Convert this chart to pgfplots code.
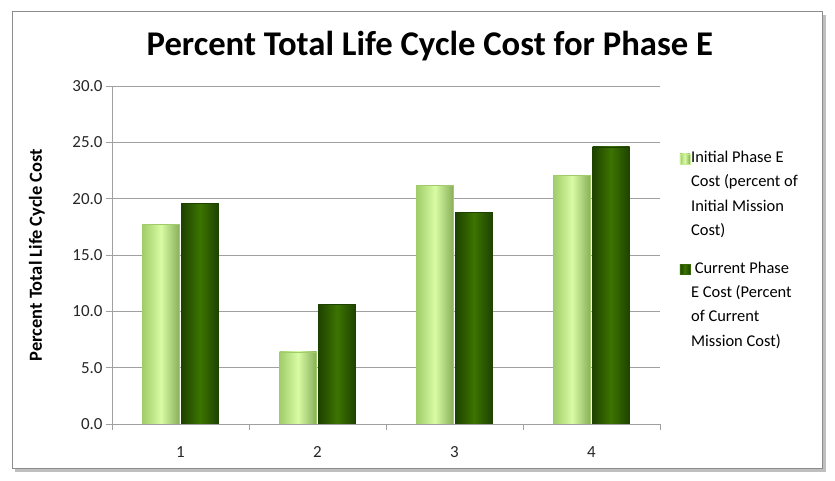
\documentclass[border=0pt]{standalone}
\usepackage{fontspec}
\setmainfont{Carlito}
\usepackage{pgfplots}
\pgfplotsset{compat=1.18}
\definecolor{lightg}{RGB}{216,251,164}
\definecolor{lightgE}{RGB}{160,205,105}
\definecolor{darkg}{RGB}{60,116,0}
\definecolor{darkgE}{RGB}{30,66,0}
\definecolor{gridc}{RGB}{160,160,160}
\begin{document}
\begin{tikzpicture}
\useasboundingbox (0,0) rectangle (835bp,481bp);
\fill[white] (0,0) rectangle (835bp,481bp);
\fill[black!25] (15bp,9bp) rectangle (826bp,466bp);
\fill[white] (12bp,12bp) rectangle (822bp,469bp);
\draw[black!45, line width=1bp] (12bp,12bp) rectangle (822bp,469bp);
\begin{axis}[
  at={(112bp,57bp)}, anchor=south west,
  scale only axis, width=548bp, height=338bp,
  xmin=0.5, xmax=4.5, ymin=0, ymax=30,
  ybar, bar width=37bp,
  xtick={1,2,3,4}, major x tick style={draw=none},
  minor xtick={0.5,1.5,2.5,3.5,4.5},
  minor tick length=6bp,
  ytick={0,5,...,30},
  major tick length=6bp,
  tick align=outside,
  tick style={gridc, line width=0.6bp},
  ymajorgrids, grid style={gridc, line width=0.6bp},
  axis x line*=bottom, axis y line*=left,
  axis line style={gridc, line width=0.6bp},
  y tick label style={/pgf/number format/.cd, fixed, fixed zerofill, precision=1, assume math mode=true},
  tick label style={font=\fontsize{17}{19}\selectfont, black!85},
  x tick label style={/pgf/number format/assume math mode=true, yshift=-13bp},
  ylabel={\bfseries Percent Total Life Cycle Cost},
  ylabel style={font=\fontsize{18.5}{20}\selectfont, at={(axis description cs:-0.137,0.5)}, anchor=center},
  title={\bfseries Percent Total Life Cycle Cost for Phase E},
  title style={font=\fontsize{34.8}{38}\selectfont, at={(axis description cs:0.58,1.10)}, anchor=center},
  legend style={draw=none, fill=none, at={(axis description cs:1.03,0.818)}, anchor=north west,
    font=\fontsize{16.5}{24.5}\selectfont, row sep=22bp, cells={anchor=north west},
    nodes={inner sep=1bp, align=left}},
  legend image code/.code={\fill[#1] (0bp,0bp) rectangle (10bp,10bp);},
  lightbar/.style={draw=lightgE, line width=0.5bp, left color=lightgE, right color=lightgE!85!black, middle color=lightg, bar shift=-19.5bp},
  darkbar/.style={draw=darkgE, line width=0.5bp, left color=darkgE, right color=darkgE, middle color=darkg, bar shift=19.5bp},
]
\addplot[lightbar, legend image code/.code={\path (0bp,0bp); \fill[lightg!70!lightgE] (0bp,-14bp) rectangle (10bp,-4bp);}] coordinates {(1,17.7)};
\addlegendentry{Initial Phase E\\Cost (percent of\\Initial Mission\\Cost)}
\addplot[darkbar, legend image code/.code={\path (0bp,0bp); \fill[darkg!80!darkgE] (0bp,-14bp) rectangle (10bp,-4bp);}] coordinates {(1,19.6)};
\addlegendentry{\ Current Phase\\E Cost (Percent\\of Current\\Mission Cost)}
\addplot[lightbar, forget plot] coordinates {(2,6.4)};
\addplot[lightbar, forget plot] coordinates {(3,21.2)};
\addplot[lightbar, forget plot] coordinates {(4,22.1)};
\addplot[darkbar, forget plot] coordinates {(2,10.6)};
\addplot[darkbar, forget plot] coordinates {(3,18.8)};
\addplot[darkbar, forget plot] coordinates {(4,24.6)};
\end{axis}
\end{tikzpicture}
\end{document}
